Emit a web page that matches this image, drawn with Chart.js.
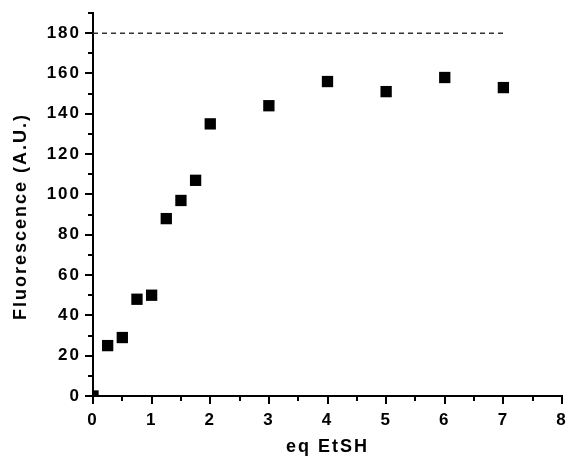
<!DOCTYPE html>
<html><head><meta charset="utf-8">
<script src="https://cdn.jsdelivr.net/npm/chart.js@4/dist/chart.umd.min.js"></script>
<style>html,body{margin:0;padding:0;background:#fff}#wrap{width:568px;height:458px}</style>
</head><body><div id="wrap"><canvas id="c"></canvas></div>
<script>
const eqValues = [0, 0.25, 0.5, 0.75, 1, 1.25, 1.5, 1.75, 2, 3, 4, 5, 6, 7];
const fluorescence = [0, 25, 29, 48, 50, 88, 97, 107, 135, 144, 156, 151, 158, 153];
const plateauX = [0, 7];
const plateauY = [180, 180];
const xTickValues = [0, 1, 2, 3, 4, 5, 6, 7, 8];
const yTickValues = [0, 20, 40, 60, 80, 100, 120, 140, 160, 180];
const xMinorTicks = [0.5, 1.5, 2.5, 3.5, 4.5, 5.5, 6.5, 7.5];
const yMinorTicks = [10, 30, 50, 70, 90, 110, 130, 150, 170, 190];
const xTitle = 'eq EtSH';
const yTitle = 'Fluorescence (A.U.)';

const FONT_FAMILY = "'Liberation Sans', Arial, Helvetica, sans-serif";
Chart.defaults.font.family = FONT_FAMILY;
Chart.defaults.font.weight = 'bold';
Chart.defaults.color = '#000';

const SPACING = '2px';
const spacingPlugin = {
  id: 'spacing',
  beforeUpdate(chart) { chart.ctx.letterSpacing = SPACING; },
  beforeDraw(chart) { chart.ctx.letterSpacing = SPACING; }
};
const minorTickPlugin = {
  id: 'minorTicks',
  afterDraw(chart) {
    const { ctx, chartArea, scales: { x, y } } = chart;
    ctx.save();
    ctx.strokeStyle = '#000';
    ctx.lineWidth = 2;
    ctx.beginPath();
    xMinorTicks.forEach(v => {
      const px = Math.round(x.getPixelForValue(v));
      ctx.moveTo(px, chartArea.bottom);
      ctx.lineTo(px, chartArea.bottom + 5);
    });
    yMinorTicks.forEach(v => {
      const py = Math.round(y.getPixelForValue(v));
      ctx.moveTo(chartArea.left, py);
      ctx.lineTo(chartArea.left - 5, py);
    });
    ctx.stroke();
    // y-axis title
    ctx.letterSpacing = SPACING;
    ctx.translate(21.5, 217.5);
    ctx.rotate(-Math.PI / 2);
    ctx.font = 'bold 18px ' + FONT_FAMILY;
    ctx.fillStyle = '#000';
    ctx.textAlign = 'center';
    ctx.textBaseline = 'middle';
    ctx.fillText(yTitle, 1, 0);
    ctx.restore();
  }
};

const axisGrid = { drawOnChartArea: false, drawTicks: true, tickLength: 8, tickWidth: 2, tickColor: '#000', color: '#000', lineWidth: 2 };

new Chart(document.getElementById('c'), {
  type: 'scatter',
  data: {
    datasets: [
      {
        type: 'line',
        data: plateauX.map((x, i) => ({ x, y: plateauY[i] })),
        borderColor: '#333',
        borderWidth: 1.5,
        borderDash: [5, 4],
        pointRadius: 0,
        fill: false,
        showLine: true
      },
      {
        data: eqValues.map((x, i) => ({ x, y: fluorescence[i] })),
        backgroundColor: '#000',
        borderColor: '#000',
        pointStyle: 'rect',
        pointRadius: 8,
        pointBorderWidth: 0,
        clip: 0
      }
    ]
  },
  options: {
    responsive: true,
    maintainAspectRatio: false,
    animation: false,
    layout: { autoPadding: false, padding: { top: 13, right: 6, left: 0, bottom: 0 } },
    plugins: { legend: { display: false }, tooltip: { enabled: false } },
    scales: {
      x: {
        type: 'linear', min: 0, max: 8,
        afterBuildTicks: s => { s.ticks = xTickValues.map(v => ({ value: v })); },
        afterFit: s => { s.height = 62; s.paddingLeft = 0; s.paddingRight = 0; },
        grid: axisGrid,
        border: { display: true, color: '#000', width: 2 },
        ticks: { font: { size: 17, weight: 'bold' }, padding: 6, maxRotation: 0, color: '#000' },
        title: { display: true, text: xTitle, font: { size: 18, weight: 'bold' }, padding: { top: 0, bottom: 0 }, color: '#000' }
      },
      y: {
        type: 'linear', min: 0, max: 190,
        afterBuildTicks: s => { s.ticks = yTickValues.map(v => ({ value: v })); },
        afterFit: s => { s.width = 93; s.paddingTop = 0; s.paddingBottom = 0; },
        grid: axisGrid,
        border: { display: true, color: '#000', width: 2 },
        ticks: { font: { size: 17, weight: 'bold' }, padding: 4, color: '#000' },
        title: { display: false, text: yTitle }
      }
    }
  },
  plugins: [spacingPlugin, minorTickPlugin]
});
</script>
</body></html>
